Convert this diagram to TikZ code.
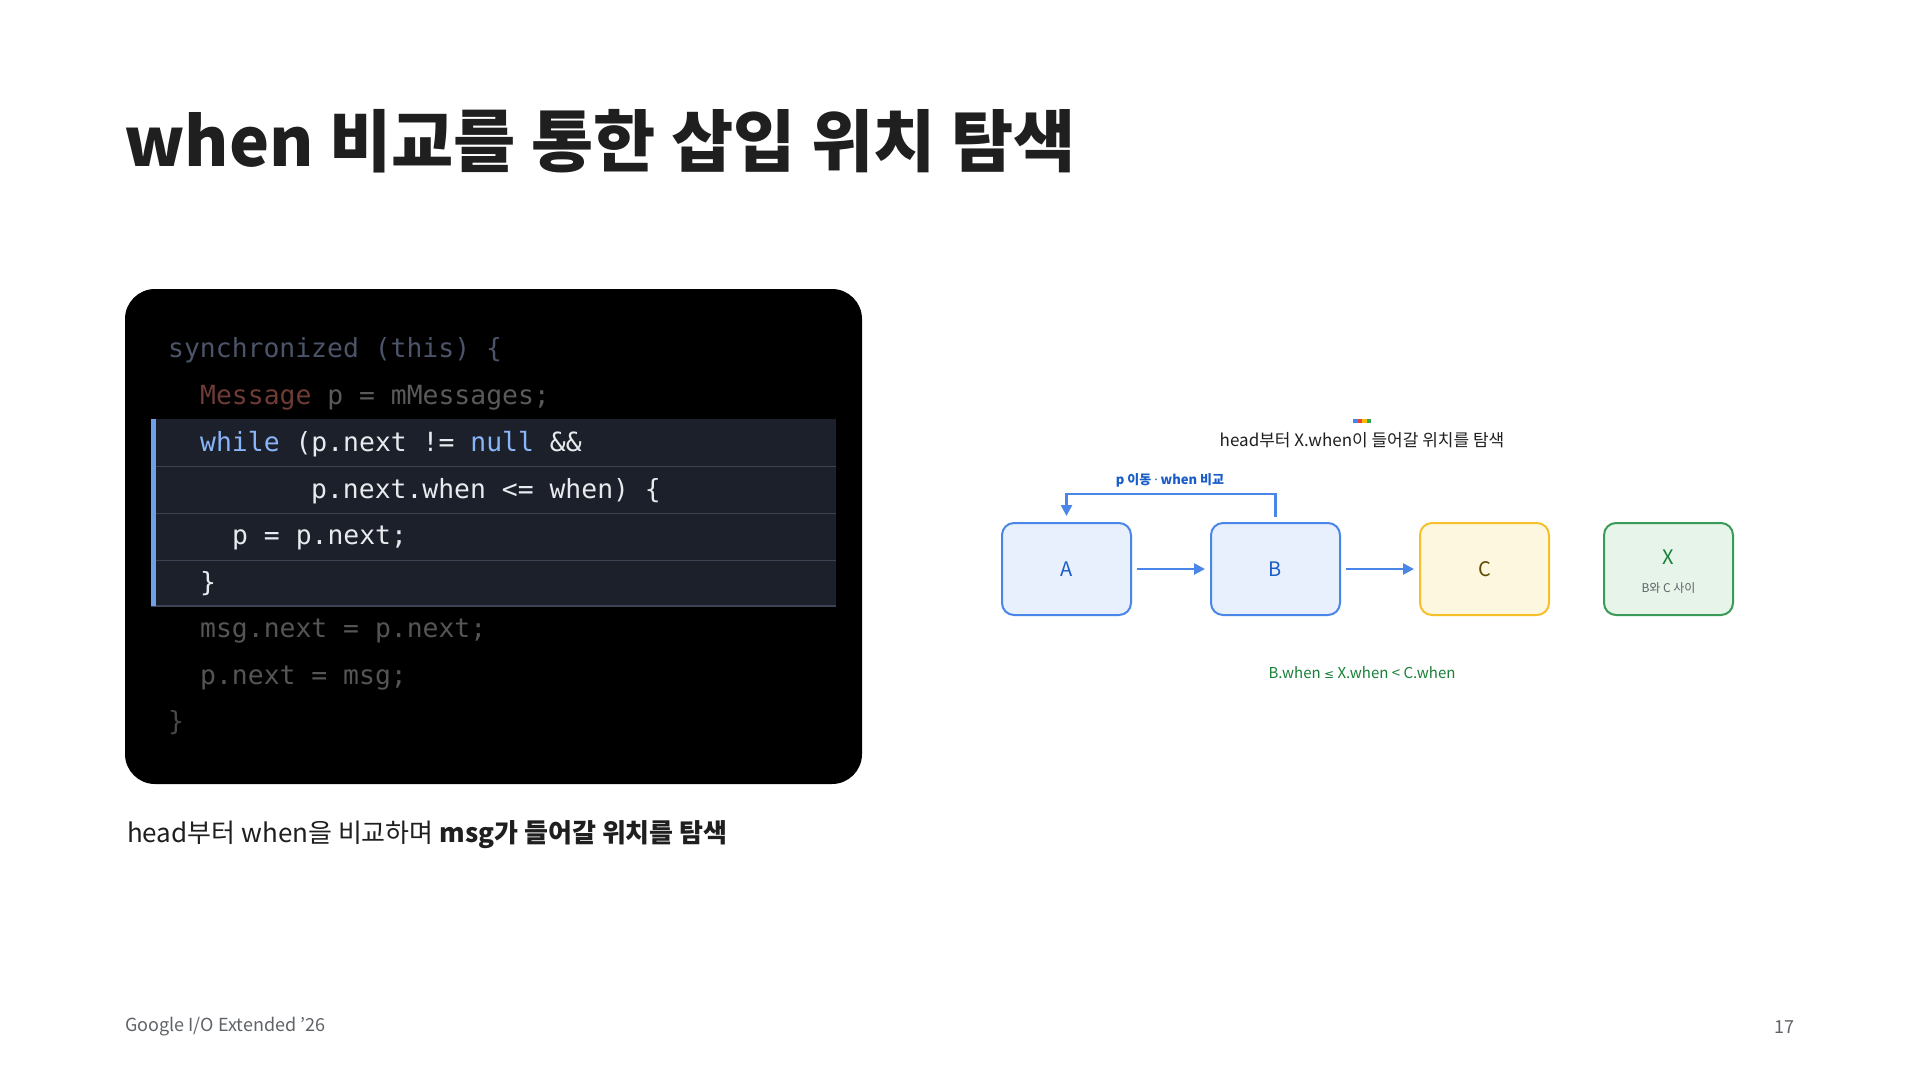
\documentclass[tikz,border=0pt]{standalone}
\usepackage{fontspec}
\setmainfont{Noto Sans CJK KR}
\newfontfamily\codefont{DejaVu Sans Mono}
\newfontfamily\latinsym{Noto Sans}
\newfontfamily\mathsymfont{DejaVu Sans}
\usetikzlibrary{arrows.meta}
\definecolor{titleink}{HTML}{1F1F1F}
\definecolor{footink}{HTML}{5F6368}
\definecolor{cSync}{HTML}{4B5468}
\definecolor{cMsgType}{HTML}{6E3B36}
\definecolor{cDim}{HTML}{5A5A5A}
\definecolor{cKey}{HTML}{8AB4F8}
\definecolor{cBright}{HTML}{E8EAED}
\definecolor{cAfter}{HTML}{555555}
\definecolor{rowbg}{HTML}{1B202B}
\definecolor{rowline}{HTML}{3C4454}
\definecolor{rowbar}{HTML}{6FA0EA}
\definecolor{gBlue}{HTML}{4A86E8}
\definecolor{gBlueFill}{HTML}{E8F0FE}
\definecolor{gBlueText}{HTML}{1A5DC8}
\definecolor{gYellow}{HTML}{F5C02A}
\definecolor{gYellowFill}{HTML}{FEF7E0}
\definecolor{gYellowText}{HTML}{5F4B00}
\definecolor{gGreen}{HTML}{3A9A57}
\definecolor{gGreenFill}{HTML}{E6F4EA}
\definecolor{gGreenText}{HTML}{188038}
\definecolor{rbBlue}{HTML}{4285F4}
\definecolor{rbRed}{HTML}{EA4335}
\definecolor{rbYellow}{HTML}{FBBC04}
\definecolor{rbGreen}{HTML}{34A853}
\tikzset{
  codeline/.style={anchor=base west, inner sep=0pt, font=\codefont\fontsize{26.4}{30}\selectfont},
  hlrow/.style={fill=rowbg},
  nodebox/.style={rounded corners=12pt, minimum width=129pt, minimum height=92pt, line width=2pt, inner sep=0pt, align=center},
  bluebox/.style={nodebox, draw=gBlue, fill=gBlueFill, text=gBlueText, font=\fontsize{20}{24}\selectfont},
  flow/.style={draw=gBlue, line width=2.5pt, -{Triangle[length=11pt,width=11pt]}},
}
\begin{document}
\begin{tikzpicture}[x=1pt,y=-1pt]
\useasboundingbox (0,0) rectangle (1920,1080);
\fill[white] (0,0) rectangle (1920,1080);

% title
\node[anchor=base west, inner sep=0pt, text=titleink, font=\bfseries\fontsize{67.6}{78}\selectfont] (title) at (124,166) {when 비교를 통한 삽입 위치 탐색};

% code panel
\fill[black, rounded corners=30pt] (125,289) rectangle (862,784);
\fill[hlrow] (151,419) rectangle (836,466);
\fill[hlrow] (151,467) rectangle (836,513);
\fill[hlrow] (151,514) rectangle (836,560);
\fill[hlrow] (151,561) rectangle (836,606);
\draw[rowline, line width=1.2pt] (151,466.5) -- (836,466.5);
\draw[rowline, line width=1.2pt] (151,513.5) -- (836,513.5);
\draw[rowline, line width=1.2pt] (151,560.5) -- (836,560.5);
\draw[rowline, line width=1.2pt] (151,606) -- (836,606);
\fill[rowbar] (151,419) rectangle (156,606);

\node[codeline, text=cSync] (l1) at (168,357) {synchronized (this) \{};
\node[codeline, text=cDim] (l2) at (200,404) {\textcolor{cMsgType}{Message} p = mMessages;};
\node[codeline, text=cBright] (l3) at (200,451) {\textcolor{cKey}{while} (p.next != \textcolor{cKey}{null} \&\&};
\node[codeline, text=cBright] (l4) at (311,498) {p.next.when <= when) \{};
\node[codeline, text=cBright] (l5) at (232,544) {p = p.next;};
\node[codeline, text=cBright] (l6) at (200,591) {\}};
\node[codeline, text=cAfter] (l7) at (200,637) {msg.next = p.next;};
\node[codeline, text=cAfter] (l8) at (200,684) {p.next = msg;};
\node[codeline, text=cAfter!85!black] (l9) at (168,730) {\}};

% caption
\node[anchor=base west, inner sep=0pt, text=titleink, font=\fontsize{26}{31}\selectfont] (caption) at (127,842) {head부터 when을 비교하며 \textbf{msg가 들어갈 위치를 탐색}};

% diagram
\fill[rbBlue] (1353,419) rectangle (1357.5,422.5);
\fill[rbRed] (1357.5,419) rectangle (1362,422.5);
\fill[rbYellow] (1362,419) rectangle (1366.5,422.5);
\fill[rbGreen] (1366.5,419) rectangle (1371,422.5);
\node[text=titleink, font=\fontsize{17}{20}\selectfont] (dtitle) at (1362,440) {head부터 X.when이 들어갈 위치를 탐색};

\node[bluebox] (A) at (1066.5,569) {A};
\node[bluebox] (B) at (1275.5,569) {B};
\node[nodebox, draw=gYellow, fill=gYellowFill, text=gYellowText, font=\fontsize{20}{24}\selectfont] (C) at (1484.5,569) {C};
\node[nodebox, draw=gGreen, fill=gGreenFill] (X) at (1668.5,569) {};
\node[text=gGreenText, font=\fontsize{20}{24}\selectfont] (Xl) at (1668.5,557) {X};
\node[text=footink, font=\fontsize{12}{14}\selectfont] (Xs) at (1668.5,588) {B와 C 사이};

\draw[flow, shorten <=5pt, shorten >=5pt] (A) -- (B);
\draw[flow, shorten <=5pt, shorten >=5pt] (B) -- (C);
\draw[flow, shorten <=5pt, shorten >=6pt] (B.north) -- ++(0,-28) -| (A.north);
\node[text=gBlueText, font=\bfseries\fontsize{13}{16}\selectfont] (loopl) at (1170,480) {p 이동 {\latinsym·} when 비교};

\node[text=gGreenText, font=\fontsize{15}{18}\selectfont] (cond) at (1362,673) {B.when {\mathsymfont\fontsize{12}{14}\selectfont≤} X.when < C.when};

% footer
\node[anchor=west, inner sep=0pt, text=footink, font=\fontsize{18}{21}\selectfont] (foot) at (125,1027) {Google I/O Extended '26};
\node[anchor=east, inner sep=0pt, text=footink, font=\fontsize{18}{21}\selectfont] (page) at (1795,1027) {17};
\end{tikzpicture}
\end{document}
